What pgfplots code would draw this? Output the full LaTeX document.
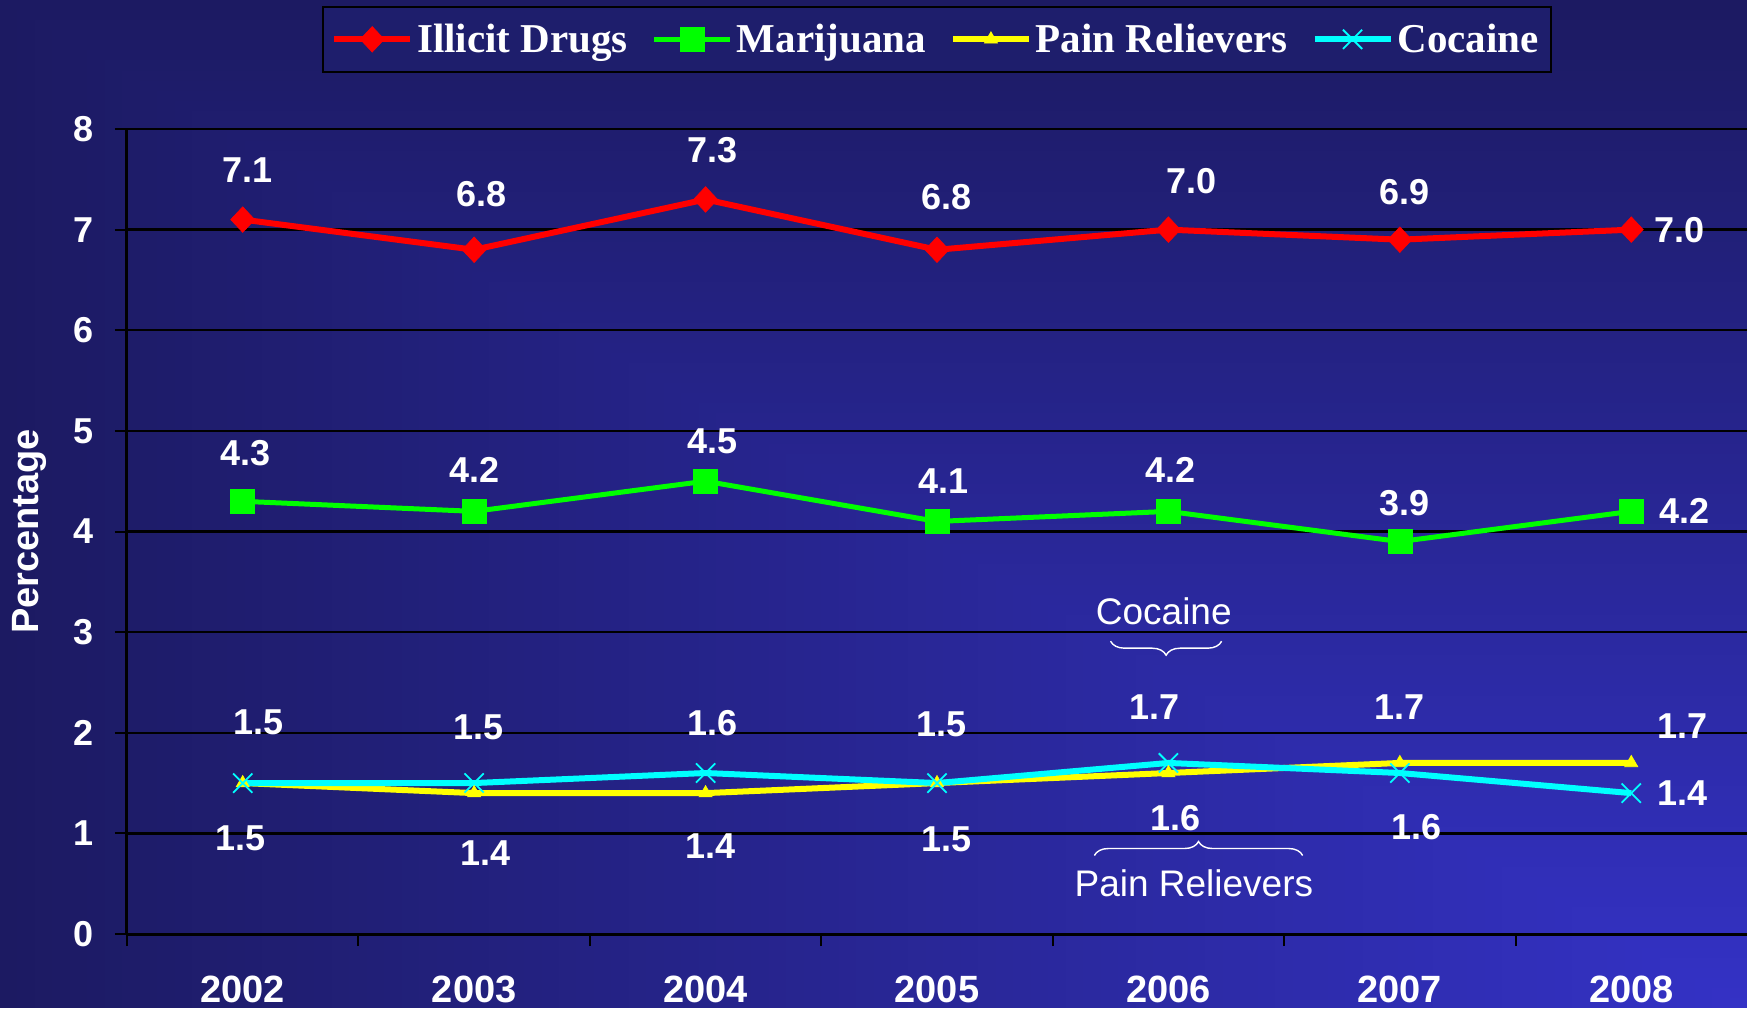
\documentclass[border=0pt]{standalone}
\usepackage{pgfplots}
\pgfplotsset{compat=1.18}
\usepackage{fontspec}
\setmainfont{Liberation Sans}
\newfontfamily\legfont{Liberation Serif}
\usetikzlibrary{decorations.pathreplacing}
\definecolor{bgdark}{RGB}{28,26,98}
\definecolor{bgbright}{RGB}{52,50,198}
\definecolor{legfill}{RGB}{30,30,108}
\definecolor{cIll}{RGB}{255,0,0}
\definecolor{cMar}{RGB}{0,255,0}
\definecolor{cPain}{RGB}{255,255,0}
\definecolor{cCoc}{RGB}{0,255,255}
\tikzset{lbl/.style={text=white, inner sep=0pt, anchor=center, font=\bfseries\fontsize{18}{18}\selectfont},
         ann/.style={text=white, inner sep=0pt, anchor=center, font=\fontsize{18.5}{18.5}\selectfont}}
\begin{document}
\begin{tikzpicture}
\useasboundingbox (0,0) rectangle (873.5pt,504pt);
\clip (0,0) rectangle (873.5pt,504pt);
\foreach \i in {0,...,99}{
  \pgfmathsetmacro\s{1-\i/100}
  \pgfmathsetmacro\pc{100*(1-\s)}
  \fill[bgbright!\pc!bgdark] ({873.5pt*(1-\s)},0pt) rectangle (873.5pt,{504pt*\s});
}
\begin{axis}[
  at={(63.5pt,37pt)}, anchor=south west,
  scale only axis, width=810pt, height=402.5pt,
  xmin=-0.5, xmax=6.5, ymin=0, ymax=8,
  xtick={-0.5,0.5,1.5,2.5,3.5,4.5,5.5},
  xticklabels={2002,2003,2004,2005,2006,2007,2008},
  xticklabel style={xshift=57.857pt, anchor=north, inner sep=0pt, yshift=-15pt, font=\bfseries\fontsize{19}{19}\selectfont},
  ytick={0,1,...,8},
  yticklabel style={anchor=east, inner sep=0pt, xshift=-10.7pt, font=\bfseries\fontsize{18}{18}\selectfont},
  /pgf/number format/assume math mode=true,
  ticklabel style={text=white},
  axis lines*=left,
  axis line style={black, line width=1.5pt},
  ymajorgrids, grid style={black, line width=1.2pt},
  tick align=outside, major tick length=6pt,
  tick style={black, line width=1pt},
  ylabel={Percentage},
  ylabel style={at={(axis description cs:-0.0599,0.5)}, anchor=center, text=white, font=\bfseries\fontsize{19}{19}\selectfont},
  clip=false,
  legend columns=4,
  legend image code/.code={\draw[mark repeat=2,mark phase=2,#1] plot coordinates {(0pt,0pt) (19pt,0pt) (38pt,0pt)};},
  legend style={at={(0.5,1.0683)}, anchor=south, yshift=0.5pt, draw=black, line width=1pt, fill=legfill, text=white,
     font=\legfont\bfseries\fontsize{20.5}{22}\selectfont,
     /tikz/every even column/.append style={column sep=10pt},
     inner xsep=4pt, inner ysep=6.5pt},
]
\addplot[color=cIll, line width=3pt, mark=diamond*, mark size=6.4pt, mark options={solid, line width=0.3pt, xscale=1.25}]
  coordinates {(0,7.1) (1,6.8) (2,7.3) (3,6.8) (4,7.0) (5,6.9) (6,7.0)};
\addlegendentry{Illicit Drugs}
\addplot[color=cMar, line width=2.5pt, mark=square*, mark size=6pt, mark options={solid, line width=0.3pt}]
  coordinates {(0,4.3) (1,4.2) (2,4.5) (3,4.1) (4,4.2) (5,3.9) (6,4.2)};
\addlegendentry{Marijuana}
\addplot[color=cPain, line width=3pt, mark=triangle*, mark size=3.8pt, mark options={solid, line width=0.3pt}]
  coordinates {(0,1.5) (1,1.4) (2,1.4) (3,1.5) (4,1.6) (5,1.7) (6,1.7)};
\addlegendentry{Pain Relievers}
\addplot[color=cCoc, line width=3pt, mark=x, mark size=6.8pt, mark options={solid, line width=0.9pt}]
  coordinates {(0,1.5) (1,1.5) (2,1.6) (3,1.5) (4,1.7) (5,1.6) (6,1.4)};
\addlegendentry{Cocaine}
% Illicit labels
\node[lbl] at (axis cs:0.02,7.59) {7.1};
\node[lbl] at (axis cs:1.03,7.35) {6.8};
\node[lbl] at (axis cs:2.03,7.79) {7.3};
\node[lbl] at (axis cs:3.04,7.32) {6.8};
\node[lbl] at (axis cs:4.10,7.48) {7.0};
\node[lbl] at (axis cs:5.02,7.37) {6.9};
\node[lbl] at (axis cs:6.21,7.00) {7.0};
% Marijuana labels
\node[lbl] at (axis cs:0.01,4.78) {4.3};
\node[lbl] at (axis cs:1.00,4.61) {4.2};
\node[lbl] at (axis cs:2.03,4.90) {4.5};
\node[lbl] at (axis cs:3.03,4.50) {4.1};
\node[lbl] at (axis cs:4.01,4.61) {4.2};
\node[lbl] at (axis cs:5.02,4.28) {3.9};
\node[lbl] at (axis cs:6.23,4.20) {4.2};
% Cocaine labels (and pain relievers above)
\node[lbl] at (axis cs:0.07,2.10) {1.5};
\node[lbl] at (axis cs:1.02,2.05) {1.5};
\node[lbl] at (axis cs:2.03,2.10) {1.6};
\node[lbl] at (axis cs:3.02,2.08) {1.5};
\node[lbl] at (axis cs:3.94,2.25) {1.7};
\node[lbl] at (axis cs:5.00,2.25) {1.7};
\node[lbl] at (axis cs:6.22,2.07) {1.7};
\node[lbl] at (axis cs:6.22,1.40) {1.4};
% Pain relievers labels below
\node[lbl] at (axis cs:-0.01,0.95) {1.5};
\node[lbl] at (axis cs:1.05,0.80) {1.4};
\node[lbl] at (axis cs:2.02,0.875) {1.4};
\node[lbl] at (axis cs:3.04,0.94) {1.5};
\node[lbl] at (axis cs:4.03,1.15) {1.6};
\node[lbl] at (axis cs:5.07,1.06) {1.6};
% annotations
\node[ann] at (axis cs:3.98,3.21) {Cocaine};
\draw[white, line width=0.7pt, decorate, decoration={brace, amplitude=7pt}] (axis cs:4.23,2.91) -- (axis cs:3.75,2.91);
\node[ann] at (axis cs:4.11,0.50) {Pain Relievers};
\draw[white, line width=0.7pt, decorate, decoration={brace, amplitude=7pt}] (axis cs:3.68,0.78) -- (axis cs:4.58,0.78);
\end{axis}
\end{tikzpicture}
\end{document}
